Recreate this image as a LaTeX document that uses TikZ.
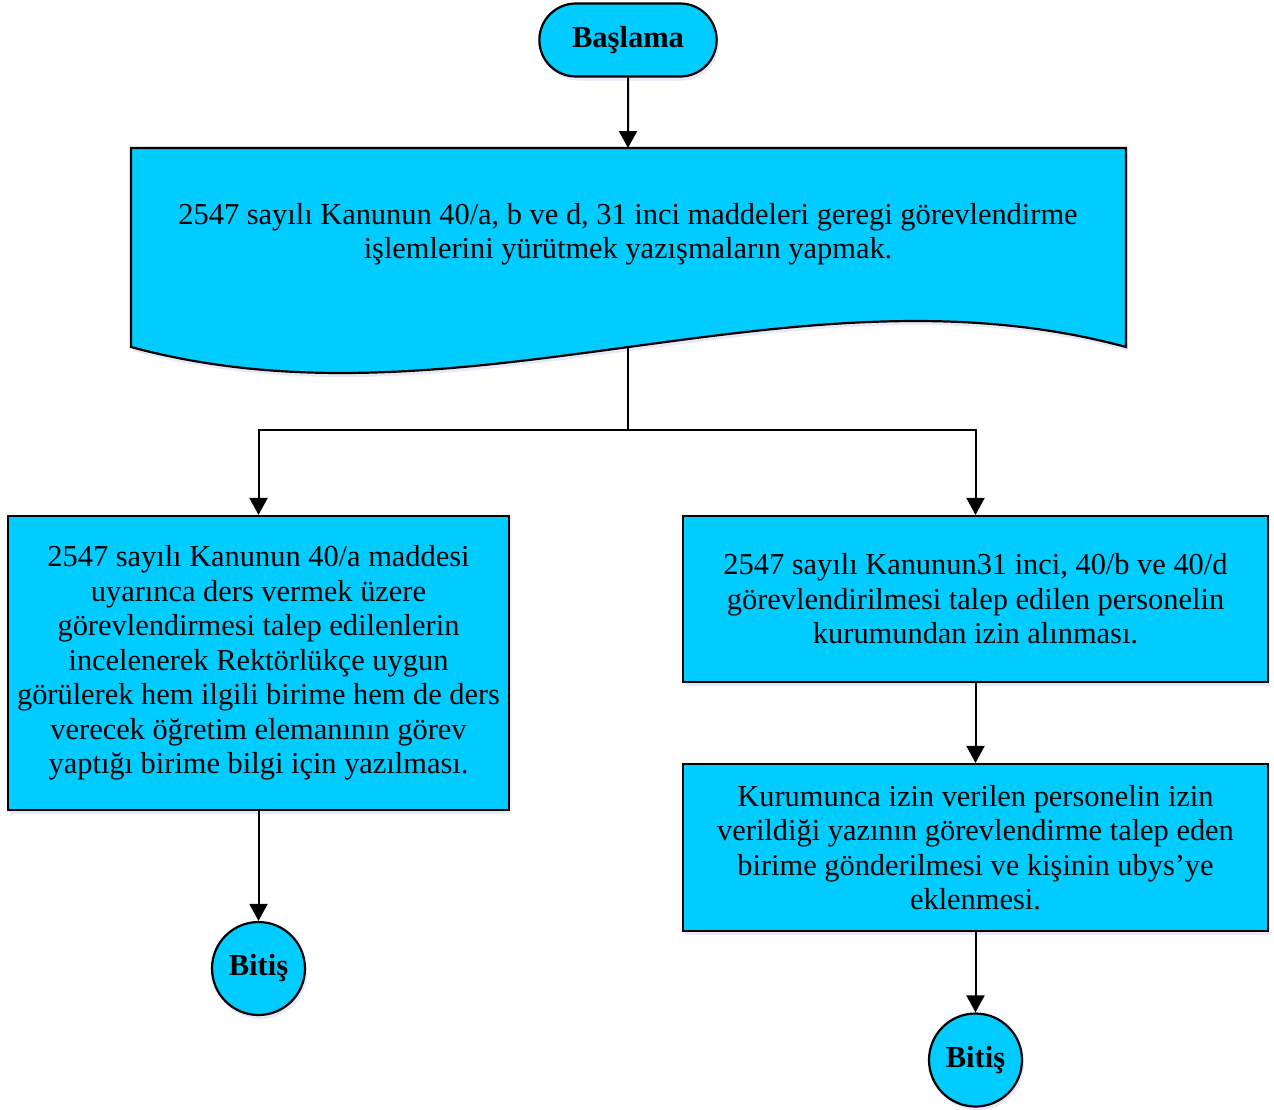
\documentclass[tikz,border=0pt]{standalone}
\usepackage{fontspec}
\setmainfont{Liberation Serif}
\usetikzlibrary{arrows.meta,shadows,shapes.misc}
\definecolor{boxfill}{RGB}{0,204,255}
\begin{document}
\begin{tikzpicture}[x=1pt,y=-1pt,
  shad/.style={drop shadow={shadow xshift=2pt,shadow yshift=-4pt,opacity=0.12,fill=blue!50!gray}},
  procbox/.style={draw=black,line width=2.2pt,fill=boxfill,shad,minimum width=#1,align=center,inner sep=0pt},
  bodytext/.style={font=\fontsize{30.4}{34.5}\selectfont},
  termtext/.style={font=\fontsize{30.5}{34}\selectfont\bfseries},
  conn/.style={line width=2pt,-{Triangle[width=18pt,length=17pt]}},
  plain/.style={line width=2pt}
]
\useasboundingbox (0,0) rectangle (1274,1109);
% start
\node[draw=black,line width=2.2pt,fill=boxfill,shad,rounded rectangle,minimum width=184pt,minimum height=73pt,termtext] (start) at (628,40) {Başlama};
% document shape
\path[draw=black,line width=2.2pt,fill=boxfill,shad] (131,148) -- (1126,148) -- (1126,347) .. controls (794,257) and (463,437) .. (131,347) -- cycle;
\node[align=center,bodytext] (doc) at (628,234) {2547 sayılı Kanunun 40/a, b ve d, 31 inci maddeleri geregi görevlendirme\\işlemlerini yürütmek yazışmaların yapmak.};
\coordinate (docbot) at (628,347);
\coordinate (split) at (628,430);
% left box
\node[procbox=501pt,minimum height=294pt,bodytext] (left) at (258.5,663) {2547 sayılı Kanunun 40/a maddesi\\uyarınca ders vermek üzere\\görevlendirmesi talep edilenlerin\\incelenerek Rektörlükçe uygun\\görülerek hem ilgili birime hem de ders\\verecek öğretim elemanının görev\\yaptığı birime bilgi için yazılması.};
% right boxes
\node[procbox=585pt,minimum height=166pt,bodytext] (r1) at (975.5,599) {2547 sayılı Kanunun31 inci, 40/b ve 40/d\\görevlendirilmesi talep edilen personelin\\kurumundan izin alınması.};
\node[procbox=585pt,minimum height=167pt,bodytext] (r2) at (975.5,847.5) {Kurumunca izin verilen personelin izin\\verildiği yazının görevlendirme talep eden\\birime gönderilmesi ve kişinin ubys’ye\\eklenmesi.};
% end nodes
\node[draw=black,line width=2.2pt,fill=boxfill,shad,circle,minimum size=93pt,inner sep=0pt,termtext] (endL) at (258.5,968.5) {Bitiş};
\node[draw=black,line width=2.2pt,fill=boxfill,shad,circle,minimum size=93pt,inner sep=0pt,termtext] (endR) at (975.5,1060) {Bitiş};
% connectors
\draw[conn] (start) -- (start |- 0,148);
\draw[plain] (docbot) -- (split);
\draw[conn] (split) -| (left.north);
\draw[conn] (split) -| (r1.north);
\draw[conn] (r1) -- (r2);
\draw[conn] (left) -- (endL);
\draw[conn] (r2) -- (endR);
\end{tikzpicture}
\end{document}
